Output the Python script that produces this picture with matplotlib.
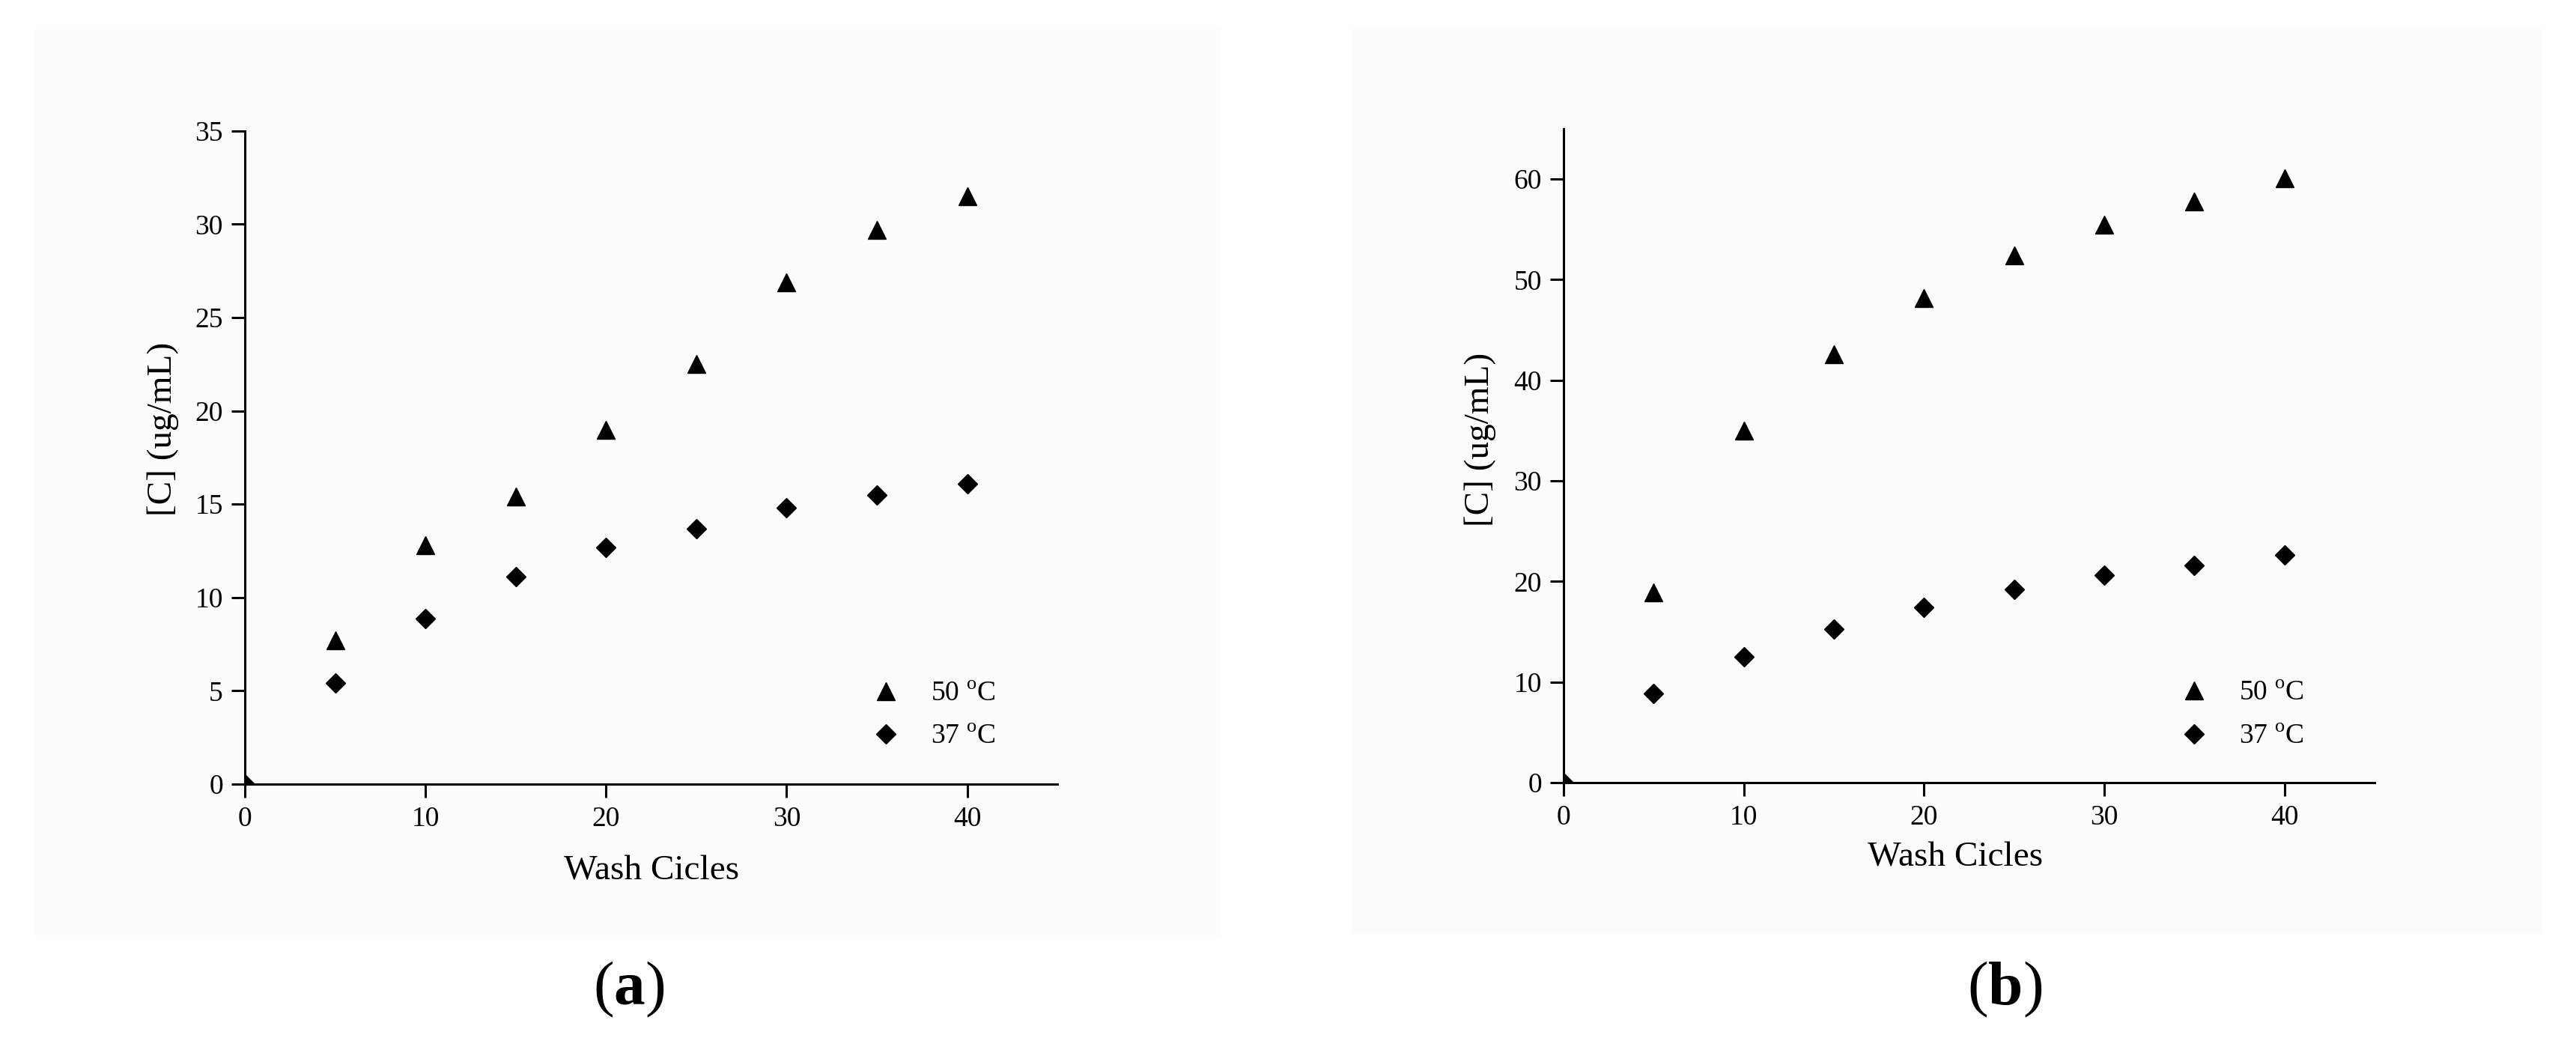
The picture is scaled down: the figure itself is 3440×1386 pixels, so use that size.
import numpy as np
import matplotlib.pyplot as plt
from matplotlib.patches import Rectangle

plt.rcParams['font.family'] = ['Liberation Serif', 'DejaVu Serif']
plt.rcParams['mathtext.fontset'] = 'custom'
plt.rcParams['mathtext.rm'] = 'Liberation Serif'
plt.rcParams['mathtext.bf'] = 'Liberation Serif:bold'

cycles = [0, 5, 10, 15, 20, 25, 30, 35, 40]

# panel (a)
a_50 = [0, 7.7, 12.8, 15.4, 19.0, 22.5, 26.9, 29.7, 31.5]
a_37 = [0, 5.4, 8.85, 11.1, 12.7, 13.7, 14.8, 15.5, 16.1]

# panel (b)
b_50 = [0, 18.9, 35.0, 42.6, 48.2, 52.4, 55.5, 57.8, 60.1]
b_37 = [0, 8.9, 12.5, 15.3, 17.4, 19.2, 20.6, 21.6, 22.6]

labels = [r"50 $^{\rm o}$C", r"37 $^{\rm o}$C"]

W, H = 3440, 1386
fig = plt.figure(figsize=(W / 100, H / 100), dpi=100)

# faint panel backgrounds
for x0, y0, x1, y1 in [(45, 38, 1630, 1250), (1805, 35, 3395, 1247)]:
    fig.patches.append(Rectangle((x0 / W, 1 - y1 / H), (x1 - x0) / W, (y1 - y0) / H,
                                 transform=fig.transFigure, facecolor='#fcfcfd',
                                 edgecolor='none', zorder=-10))

ax1 = fig.add_axes([0.0951, 0.2446, 0.3154, 0.6292])
ax2 = fig.add_axes([0.6070, 0.2460, 0.3148, 0.6299])

setups = [
    (ax1, a_50, a_37, 35, 5, (0.772, 0.158), (0.5005, -0.133), (-0.1005, 0.5436), 'a', 840),
    (ax2, b_50, b_37, 65, 10, (0.760, 0.156), (0.483, -0.1146), (-0.1025, 0.5246), 'b', 2677),
]

for ax, s50, s37, ymax, ystep, leg_pos, xl_pos, yl_pos, tag, tag_x in setups:
    ax.set_facecolor('none')
    ax.plot(cycles, s50, linestyle='none', marker='^', ms=17, color='black', label=labels[0])
    ax.plot(cycles, s37, linestyle='none', marker='D', ms=13, color='black', label=labels[1])
    ax.set_xlim(0, 45)
    ax.set_ylim(0, ymax)
    ax.set_xticks([0, 10, 20, 30, 40])
    ax.set_yticks(np.arange(0, ymax + 0.1, ystep))
    for s in ['top', 'right']:
        ax.spines[s].set_visible(False)
    for s in ['left', 'bottom']:
        ax.spines[s].set_linewidth(2.2)
    ax.tick_params(direction='out', length=13, width=2.2, labelsize=27, pad=8)
    ax.set_xlabel('Wash Cicles', fontsize=34, va='center')
    ax.xaxis.set_label_coords(*xl_pos)
    ax.set_ylabel('[C] (ug/mL)', fontsize=34, va='center', ha='center')
    ax.yaxis.set_label_coords(*yl_pos)
    ax.legend(loc='upper left', bbox_to_anchor=leg_pos, frameon=False, fontsize=27,
              borderpad=0, handlelength=1, handletextpad=1.1, labelspacing=0.62,
              borderaxespad=0)
    fig.text(tag_x / W, 1 - 1321 / H, r'($\mathbf{' + tag + r'}$)', fontsize=60,
             ha='center', va='center')

fig.savefig('out.png', dpi=100)
